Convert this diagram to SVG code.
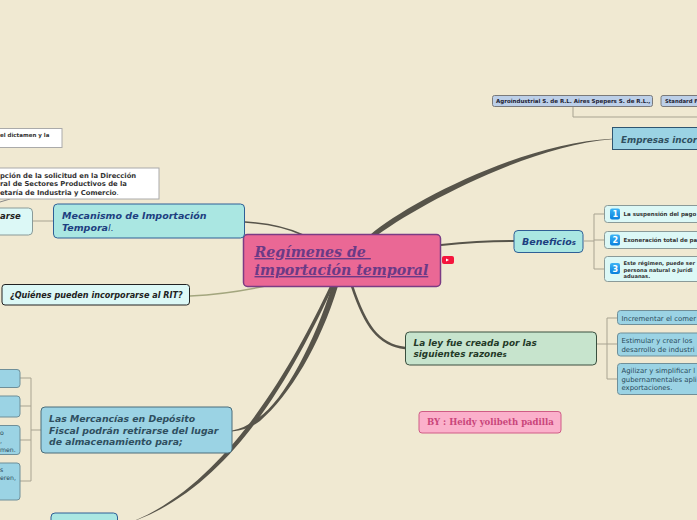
<svg xmlns="http://www.w3.org/2000/svg" width="697" height="520" viewBox="0 0 697 520">
<style>
text{font-family:"DejaVu Sans",Verdana,sans-serif}
.b{font-weight:700;font-style:italic}
.sm{font-size:5.500px;font-weight:700;fill:#333}
.md{font-size:6.900px;fill:#2a4a5a}
.ln{fill:none;stroke:#a8a391;stroke-width:1}
.tr{fill:none;stroke:#57544a;stroke-linecap:round}
.tp{fill:#57544a;stroke:none}
.blue{fill:#9bd3e4;stroke:#6f8f99;stroke-width:1}
.tq{fill:#aae7e2;stroke:#2f5f96;stroke-width:1}
.lt{fill:#dcf8f6;stroke:#8a9a98;stroke-width:1}
.wh{fill:#fff;stroke:#aaa;stroke-width:1}
.chip{fill:#bccfe8;stroke:#7a7a7a;stroke-width:1}
.num{font-size:8px;font-weight:700;fill:#fff}
.srf{font-family:"DejaVu Serif",serif;font-weight:700}
</style>
<defs>
<linearGradient id="ic" x1="0" y1="0" x2="0" y2="1"><stop offset="0" stop-color="#3cb4f5"/><stop offset="1" stop-color="#0a7fdc"/></linearGradient>
</defs>
<rect width="697" height="520" fill="#f0e9d2"/>
<g id="connectors">
<path class="tp" d="M370.500 234.500C405 205 520 143 612 138.700L612 139.300C525 146 410 210 373.500 238Z"/>
<path class="tr" stroke-width="2" d="M441 245Q480 241 514 241"/>
<path class="tr" stroke-width="2.500" d="M352 286C365 325 378 345 405 348"/>
<path class="tr" stroke-width="1.500" d="M245 222Q280 224 303 235"/>
<path d="M190 296Q230 294 270 285" fill="none" stroke="#a3a67e" stroke-width="1.500"/>
<path class="tp" d="M332 286C315 340 285 400 258 418Q246 428 232 430.600L232 431.400Q248 430 260 421C290 395 320 345 338 286Z"/>
<path class="tp" d="M330 286C295 360 230 480 136 520L136 520.300C236 483 296 366 333.500 286Z"/>
<path class="ln" d="M33 221H54"/>
<path class="ln" d="M573 107V117H697"/>
<path class="ln" d="M584 241H594M594 214V269M594 214H604M594 240H604M594 269H604"/>
<path class="ln" d="M597 344H607M607 318V379M607 318H617M607 344H617M607 379H617"/>
<path class="ln" d="M41 430H31M31 378V481M31 378H20M31 406H20M31 440H20M31 481H20"/>
<path d="M0 202L10 199" fill="none" stroke="#888"/>
</g>
<g id="center"><rect x="243.500" y="234.500" width="197" height="52" rx="4" fill="#ea6895" stroke="#7b3b84" stroke-width="1.500"/>
<text class="srf" font-size="14.200" font-style="italic" fill="#6b3a86" text-decoration="underline"><tspan x="254.500" y="257">Regímenes de </tspan><tspan x="254.500" y="275">importación temporal</tspan></text></g>
<g id="play"><rect x="442" y="256" width="12" height="8" rx="2" fill="#f5143c"/><path d="M446 258.500l3 1.500-3 1.500z" fill="#fff"/></g>
<g id="empresas"><rect x="612.500" y="127.500" width="100" height="22" fill="#9bd3e4" stroke="#2f5570"/><text class="b" x="621" y="143" font-size="8.800" fill="#2f4f60">Empresas incor</text></g>
<g id="chip1"><rect class="chip" x="492.500" y="95.500" width="160" height="11" rx="2"/><text x="496" y="103" font-size="5.500" font-weight="700" fill="#223">Agroindustrial S. de R.L. Aires Spepers S. de R.L.,</text></g>
<g id="chip2"><rect class="chip" x="661" y="95.500" width="50" height="11" rx="2"/><text x="665" y="103" font-size="5.300" font-weight="700" fill="#223">Standard F</text></g>
<g id="beneficios"><rect class="tq" x="514" y="230.500" width="69" height="22" rx="4"/><text class="b" x="522" y="245" font-size="9.500" fill="#1d3f80">Beneficio<tspan font-size="7">s</tspan></text></g>
<g id="b1"><rect class="lt" x="604.500" y="205.500" width="110" height="17" rx="3"/><rect x="610" y="208.500" width="10" height="11" rx="2" fill="url(#ic)"/><text class="num" x="612.500" y="217">1</text><text class="sm" x="623.500" y="216">La suspensión del pago</text></g>
<g id="b2"><rect class="lt" x="604.500" y="231.500" width="110" height="17" rx="3"/><rect x="610" y="234.500" width="10" height="11" rx="2" fill="url(#ic)"/><text class="num" x="612.500" y="243">2</text><text class="sm" x="623.500" y="242">Exoneración total de pa</text></g>
<g id="b3"><rect class="lt" x="604.500" y="256.500" width="110" height="25" rx="3"/><rect x="610" y="263" width="10" height="11" rx="2" fill="url(#ic)"/><text class="num" x="612.500" y="271.500">3</text><text font-size="5.200" font-weight="700" fill="#333"><tspan x="623.500" y="265">Este régimen, puede ser</tspan><tspan x="623.500" y="271.500">persona natural o jurídi</tspan><tspan x="623.500" y="278">aduanas.</tspan></text></g>
<g id="razones"><rect x="405.500" y="332" width="191" height="33" rx="4" fill="#c7e4cd" stroke="#3a4f3e"/><text class="b" font-size="8.900" fill="#243a28"><tspan x="413.500" y="346">La ley fue creada por las</tspan><tspan x="413.500" y="357">siguientes razone<tspan font-size="7">s</tspan></tspan></text></g>
<g id="r1"><rect class="blue" x="617.500" y="310.500" width="100" height="14" rx="3"/><text class="md" x="621.500" y="321">Incrementar el comer</text></g>
<g id="r2"><rect class="blue" x="617.500" y="333" width="100" height="23" rx="3"/><text class="md"><tspan x="621.500" y="343">Estimular y crear los</tspan><tspan x="621.500" y="351.500">desarrollo de industri</tspan></text></g>
<g id="r3"><rect class="blue" x="617.500" y="363.500" width="100" height="31" rx="3"/><text class="md"><tspan x="621.500" y="373">Agilizar y simplificar l</tspan><tspan x="621.500" y="381.500">gubernamentales apli</tspan><tspan x="621.500" y="390">exportaciones.</tspan></text></g>
<g id="author"><rect x="419" y="411.500" width="142" height="21.500" rx="3" fill="#fbb0cb" stroke="#cf5c86"/><text class="srf" x="427" y="425" font-size="8.500" fill="#c9457a">BY : Heidy yolibeth padilla</text></g>
<g id="mecanismo"><rect class="tq" x="53.500" y="204" width="191" height="34" rx="4"/><text class="b" font-size="9.500" fill="#1d3f80"><tspan x="62" y="218.500">Mecanismo de Importación</tspan><tspan x="62" y="231">Tempora<tspan font-weight="400">l.</tspan></tspan></text></g>
<g id="arse"><rect class="lt" x="-20" y="208" width="52.500" height="27" rx="4"/><text class="b" x="0" y="219" font-size="8.500" fill="#222">arse</text></g>
<g id="w1"><rect class="wh" x="-60" y="128.500" width="122" height="19"/><text class="sm" x="0" y="136.500">el dictamen y la</text></g>
<g id="w2"><rect class="wh" x="-60" y="168" width="219" height="31"/><text font-size="6.800" font-weight="700" fill="#333"><tspan x="0" y="177.500">pción de la solicitud en la Dirección</tspan><tspan x="0" y="186">ral de Sectores Productivos de la</tspan><tspan x="0" y="195">etaría de Industria y Comercio<tspan font-weight="400">.</tspan></tspan></text></g>
<g id="quienes"><rect x="2" y="284.500" width="187.500" height="20.500" rx="3" fill="#dcf8f6" stroke="#222"/><text class="b" x="10" y="298" font-size="8.100" fill="#222">¿Quiénes pueden incorporarse al RIT?</text></g>
<g id="mercancias"><rect x="41" y="407" width="191" height="46" rx="4" fill="#9bd3e4" stroke="#4b6d7a"/><text class="b" font-size="9.300" fill="#2f4f60"><tspan x="49" y="422">Las Mercancías en Depósito</tspan><tspan x="49" y="434">Fiscal podrán retirarse del lugar</tspan><tspan x="49" y="445">de almacenamiento para;</tspan></text></g>
<g id="m1"><rect class="blue" x="-30" y="369.500" width="50" height="18" rx="3"/></g>
<g id="m2"><rect class="blue" x="-30" y="396" width="50" height="21" rx="3"/></g>
<g id="m3"><rect class="blue" x="-30" y="425.500" width="50" height="29" rx="3"/><text font-size="6.200" fill="#2a4a5a"><tspan x="0" y="435">o</tspan><tspan x="0" y="443">,</tspan><tspan x="0" y="451.500">men.</tspan></text></g>
<g id="m4"><rect class="blue" x="-30" y="463" width="50" height="37" rx="3"/><text font-size="6.200" fill="#2a4a5a"><tspan x="0" y="472">s</tspan><tspan x="0" y="480">eren,</tspan></text></g>
<g id="bottom"><rect class="tq" x="51" y="513" width="66.500" height="20" rx="4"/></g>
</svg>
